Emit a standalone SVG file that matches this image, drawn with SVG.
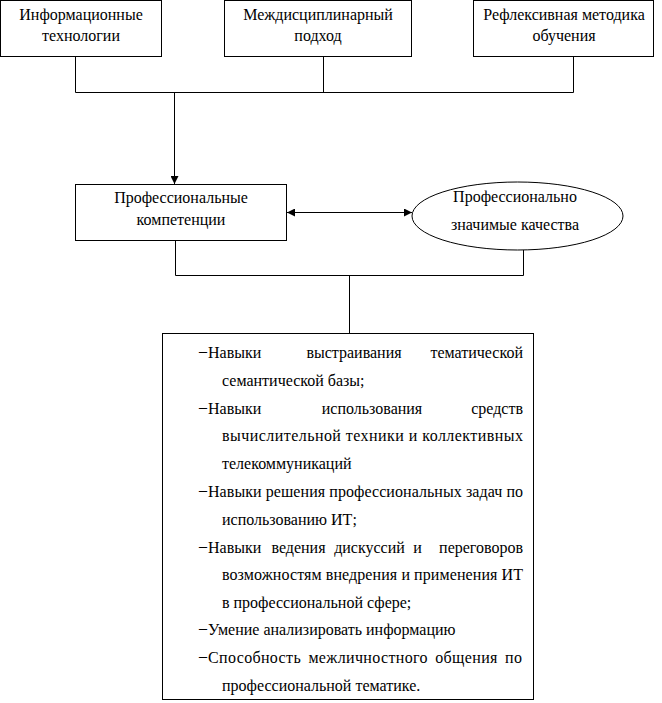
<svg xmlns="http://www.w3.org/2000/svg" width="662" height="703" viewBox="0 0 662 703">
<style>
.box{fill:#fff;stroke:#000;stroke-width:1}
.ln{fill:none;stroke:#000;stroke-width:1}
.c{text-anchor:middle}
.e{text-anchor:end}
</style>
<defs>
<marker id="ah" viewBox="0 0 10 10" refX="10" refY="5" markerWidth="9" markerHeight="8" markerUnits="userSpaceOnUse" orient="auto-start-reverse">
<path d="M0,0 L10,5 L0,10 Z" fill="#000"/>
</marker>
</defs>
<rect width="662" height="703" fill="#fff"/>
<g id="connectors">
<polyline class="ln" points="75.5,57 75.5,92.5 573.5,92.5 573.5,57"/>
<line class="ln" x1="323.5" y1="57" x2="323.5" y2="92.5"/>
<line class="ln" x1="174.5" y1="92.5" x2="174.5" y2="184" marker-end="url(#ah)"/>
<line class="ln" x1="287" y1="212.5" x2="412" y2="212.5" marker-start="url(#ah)" marker-end="url(#ah)"/>
<polyline class="ln" points="175.5,241 175.5,275.5 523.5,275.5 523.5,250"/>
<line class="ln" x1="349.5" y1="275.5" x2="349.5" y2="333"/>
</g>
<g font-family="Liberation Serif, DejaVu Serif, serif" font-size="16" fill="#000">
<g id="n1">
<rect class="box" x="0.5" y="0.5" width="161" height="56"/>
<text class="c" x="81" y="20">Информационные</text>
<text class="c" x="81" y="41">технологии</text>
</g>
<g id="n2">
<rect class="box" x="224.5" y="0.5" width="187" height="56"/>
<text class="c" x="318" y="20">Междисциплинарный</text>
<text class="c" x="318" y="41">подход</text>
</g>
<g id="n3">
<rect class="box" x="473.5" y="0.5" width="180" height="56"/>
<text class="c" x="564" y="20">Рефлексивная методика</text>
<text class="c" x="564" y="41">обучения</text>
</g>
<g id="n4">
<rect class="box" x="75.5" y="184.5" width="211" height="56"/>
<text class="c" x="181" y="203">Профессиональные</text>
<text class="c" x="181" y="225">компетенции</text>
</g>
<g id="n5">
<ellipse class="box" cx="517.5" cy="216" rx="105.5" ry="34"/>
<text class="c" x="515" y="202">Профессионально</text>
<text class="c" x="515" y="230">значимые качества</text>
</g>
<g id="n6">
<rect class="box" x="162.5" y="333.5" width="371" height="366"/>
<text x="199" y="356">–</text>
<text x="208" y="358">Навыки</text>
<text class="c" x="354" y="358">выстраивания</text>
<text class="e" x="523" y="358">тематической</text>
<text x="222" y="386">семантической базы;</text>
<text x="199" y="412">–</text>
<text x="208" y="414">Навыки</text>
<text class="c" x="372" y="414">использования</text>
<text class="e" x="523" y="414">средств</text>
<text x="222" y="441" textLength="301" lengthAdjust="spacing">вычислительной техники и коллективных</text>
<text x="222" y="469">телекоммуникаций</text>
<text x="199" y="495">–</text>
<text x="208" y="497" textLength="315" lengthAdjust="spacing">Навыки решения профессиональных задач по</text>
<text x="222" y="525">использованию ИТ;</text>
<text x="199" y="551">–</text>
<text x="208" y="553">Навыки</text>
<text class="c" x="298.5" y="553">ведения</text>
<text class="c" x="369.5" y="553">дискуссий</text>
<text class="c" x="417.5" y="553">и</text>
<text class="e" x="523" y="553">переговоров</text>
<text x="222" y="580" textLength="301" lengthAdjust="spacing">возможностям внедрения и применения ИТ</text>
<text x="222" y="608">в профессиональной сфере;</text>
<text x="199" y="633">–</text>
<text x="208" y="635">Умение анализировать информацию</text>
<text x="199" y="661">–</text>
<text x="208" y="663" textLength="314" lengthAdjust="spacing" word-spacing="3">Способность межличностного общения по</text>
<text x="222" y="691">профессиональной тематике.</text>
</g>
</g>
</svg>
